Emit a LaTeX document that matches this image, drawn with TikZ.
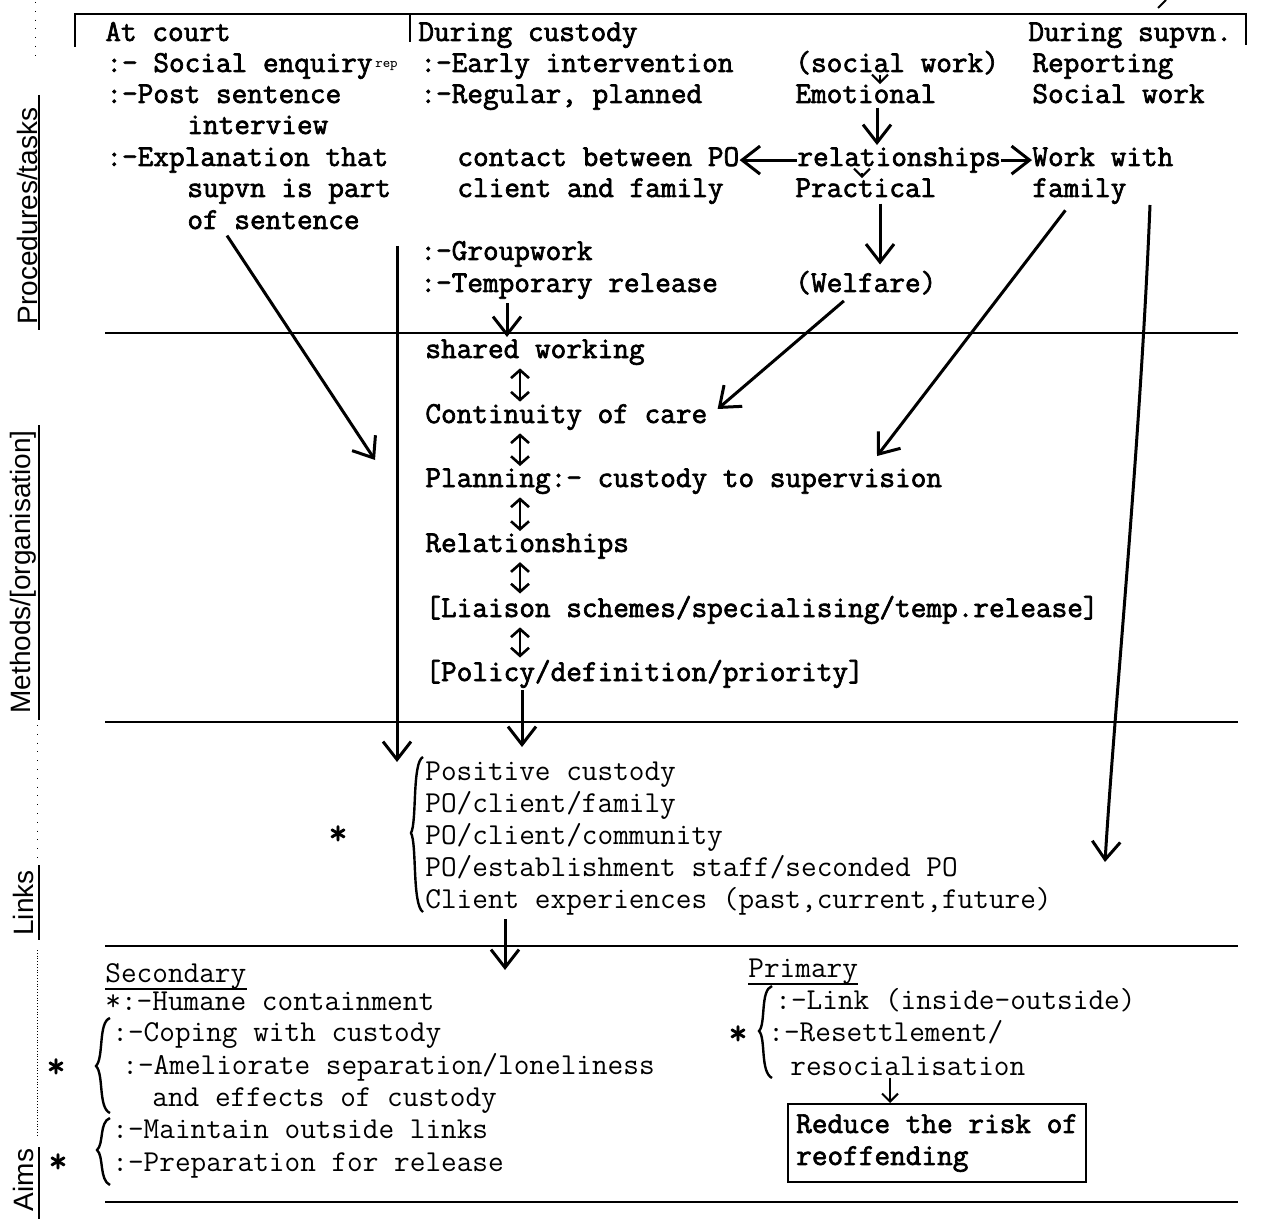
\documentclass[tikz,border=0pt]{standalone}
\usepackage{fontspec}
\usepackage{tikz}
\usetikzlibrary{arrows.meta,calc}
\newfontfamily\sidefont{Liberation Sans}
\newfontfamily\typewb{Latin Modern Mono}[FakeBold=2.2]
\newcommand{\topf}{\typewb\fontsize{15.2}{16}\selectfont}
\newcommand{\lowf}{\ttfamily\fontsize{15.2}{16}\selectfont}

\begin{document}
\begin{tikzpicture}[x=0.5pt,y=-0.5pt,
  tt/.style={anchor=base west,inner sep=0pt,font=\topf},
  lt/.style={anchor=base west,inner sep=0pt,font=\lowf},
  side/.style={rotate=90,inner sep=0pt,font=\sidefont\fontsize{14}{14}\selectfont},
  star/.style={inner sep=0pt,font=\typewb\fontsize{18}{18}\selectfont},
  >={Straight Barb[length=9pt,width=14pt]},
  big/.style={->,line width=1.5pt},
  small/.style={-{Straight Barb[length=4pt,width=8pt]},line width=1pt},
  updown/.style={{Straight Barb[length=4pt,width=9pt]}-{Straight Barb[length=4pt,width=9pt]},line width=1.3pt},
  rule/.style={line width=1.2pt}]
\fill[white] (0,0) rectangle (1268,1219);
\useasboundingbox (0,0) rectangle (1268,1219);

% frame and rules
\draw[rule] (75,47) -- (75,14) -- (1246,14) -- (1246,45);
\draw[rule] (410,14) -- (410,42);
\draw[line width=1pt] (1158,8) -- (1166,0);
\foreach \y in {333,722,946,1202} \draw[rule] (105,\y) -- (1238,\y);

% side labels
\node[side] (proc) at (27,216) {Procedures/tasks};
\node[side] (meth) at (23,572) {Methods/[organisation]};
\node[side] (links) at (23,903) {Links};
\node[side] (aims) at (23,1180) {Aims};
\draw[line width=1pt] (39,95) -- (39,330);
\draw[line width=1pt] (39,425) -- (39,720);
\draw[line width=1pt] (39,865) -- (39,940);
\draw[line width=1pt] (39,1147) -- (39,1219);
\draw[densely dotted] (37,950) -- (37,1135);
\draw[loosely dotted] (35,2) -- (35,60);
\draw[loosely dotted] (37,725) -- (37,860);

% at court
\node[tt] (court) at (105,41) {At court};
\node[tt] (enq) at (106,72) {:- Social enquiry};
\node[anchor=base west,inner sep=0pt,font=\ttfamily\fontsize{7}{7}\selectfont] (rep) at ([xshift=1pt,yshift=2pt]enq.base east) {rep};
\node[tt] (post) at (106,103) {:-Post sentence};
\node[tt] (interv) at (187,134) {interview};
\node[tt] (expl) at (106,166) {:-Explanation that};
\node[tt] (supvn) at (187,197) {supvn is part};
\node[tt] (sent) at (187,229) {of sentence};

% during custody
\node[tt] (cust) at (418,41) {During custody};
\node[tt] (early) at (420,72) {:-Early intervention};
\node[tt] (reg) at (420,103) {:-Regular, planned};
\node[tt] (contact) at (457,166) {contact between PO};
\node[tt] (client) at (457,197) {client and family};
\node[tt] (group) at (420,260) {:-Groupwork};
\node[tt] (temp) at (420,292) {:-Temporary release};

\node[tt] (socw) at (795,72) {(social work)};
\node[tt] (emo) at (795,103) {Emotional};
\node[tt] (rel) at (797,166) {relationships};
\node[tt] (prac) at (795,197) {Practical};
\node[tt] (welf) at (795,292) {(Welfare)};

% during supervision
\node[tt] (dsup) at (1028,41) {During supvn.};
\node[tt] (report) at (1032,72) {Reporting};
\node[tt] (socwork) at (1032,103) {Social work};
\node[tt] (work) at (1032,166) {Work with};
\node[tt] (fam) at (1032,197) {family};

% methods
\node[tt] (shared) at (425,358) {shared working};
\node[tt] (cont) at (425,423) {Continuity of care};
\node[tt] (plan) at (425,487) {Planning:- custody to supervision};
\node[tt] (relsh) at (425,552) {Relationships};
\node[tt] (liais) at (425,617) {[Liaison schemes/specialising/temp.release]};
\node[tt] (policy) at (425,681) {[Policy/definition/priority]};

% links
\node[lt] (pos) at (425,780) {Positive custody};
\node[lt] (pofam) at (425,812) {PO/client/family};
\node[lt] (pocom) at (425,844) {PO/client/community};
\node[lt] (poest) at (425,876) {PO/establishment staff/seconded PO};
\node[lt] (clexp) at (425,908) {Client experiences (past,current,future)};
\node[star] (st1) at (338,835) {*};
\draw[line width=1.2pt] (423,757) .. controls (412,762) and (417,822) .. (411,833) .. controls (417,844) and (412,905) .. (423,912);

% aims
\node[lt] (sec) at (105,982) {Secondary};
\draw[line width=0.9pt] ($(sec.base west)+(0,7)$) -- ($(sec.base east)+(0,7)$);
\node[lt] (hum) at (105,1010) {*:-Humane containment};
\node[lt] (cope) at (112,1041) {:-Coping with custody};
\node[lt] (amel) at (122,1074) {:-Ameliorate separation/loneliness};
\node[lt] (effects) at (152,1106) {and effects of custody};
\node[lt] (maint) at (112,1138) {:-Maintain outside links};
\node[lt] (prep) at (112,1171) {:-Preparation for release};
\node[star] (st2) at (56,1068) {*};
\node[star] (st3) at (58,1163) {*};
\draw[line width=1.2pt] (110,1018) .. controls (98,1022) and (104,1058) .. (96,1066) .. controls (104,1074) and (98,1108) .. (110,1113);
\draw[line width=1.2pt] (110,1118) .. controls (99,1122) and (104,1144) .. (97,1150) .. controls (104,1156) and (99,1180) .. (110,1185);

\node[lt] (prim) at (748,977) {Primary};
\draw[line width=0.9pt] ($(prim.base west)+(0,7)$) -- ($(prim.base east)+(0,7)$);
\node[lt] (link) at (775,1009) {:-Link (inside-outside)};
\node[lt] (resett) at (768,1041) {:-Resettlement/};
\node[lt] (resoc) at (790,1075) {resocialisation};
\node[star] (st4) at (738,1035) {*};
\draw[line width=1.2pt] (772,986) .. controls (760,990) and (766,1024) .. (759,1031) .. controls (766,1038) and (760,1072) .. (772,1078);
\node[draw,line width=1.2pt,anchor=north west,align=left,font=\topf,inner xsep=4pt,inner ysep=5pt] (reduce) at (787,1103) {Reduce the risk of\\reoffending};

% connectors
\coordinate (colA) at (507,0);
\coordinate (colB) at (520,0);
\coordinate (colC) at (880,0);
\coordinate (colD) at (862,0);
\coordinate (colE) at (877,0);
\coordinate (colF) at (522,0);
\coordinate (colG) at (505,0);
\coordinate (colH) at (890,0);
\coordinate (vtop) at (397,246);
\coordinate (vbot) at (397,762);
\coordinate (sarr) at (375,460);
\coordinate (rtop) at (1150,205);
\coordinate (rbot) at (1105,862);

\draw[small] (socw.south -| colC) -- (emo.north -| colC);
\draw[big] ($(emo.south -| colE)+(0,4)$) -- ($(rel.north -| colE)+(0,-2)$);
\draw[small] (rel.south -| colD) -- (prac.north -| colD);
\draw[big] ($(prac.south -| colC)+(0,6)$) -- ($(welf.north -| colC)+(0,-6)$);
\draw[big] (rel.west) -- (rel.west -| contact.east);
\draw[big] (rel.east) -- (rel.east -| work.west);

\draw[big] ([xshift=20pt,yshift=-3pt]sent.south west) -- (sarr);
\draw[big] (vtop) -- (vbot);
\draw[big] ($(temp.south -| colA)+(0,4)$) -- ($(shared.north -| colA)+(0,-2)$);
\draw[big] ([xshift=-11pt,yshift=-3pt]welf.south) -- ([xshift=5pt,yshift=4pt]cont.east);
\draw[big] ([xshift=-7pt,yshift=-3pt]fam.south) -- ($(plan.north -| colE)+(0,-12)$);
\draw[big] (rtop) .. controls (1140,450) and (1115,700) .. (rbot);

\foreach \a/\b in {shared/cont,cont/plan,plan/relsh,relsh/liais,liais/policy}
  \draw[updown] ($(\a.south -| colB)+(0,3)$) -- ($(\b.north -| colB)+(0,-2)$);

\draw[big] ($(policy.south -| colF)+(0,2)$) -- ($(pos.north -| colF)+(0,-14)$);
\draw[big] ($(clexp.south -| colG)+(0,4)$) -- (colG |- 0,970);
\draw[small] ($(resoc.south -| colH)+(0,2)$) -- (reduce.north -| colH);
\end{tikzpicture}
\end{document}
